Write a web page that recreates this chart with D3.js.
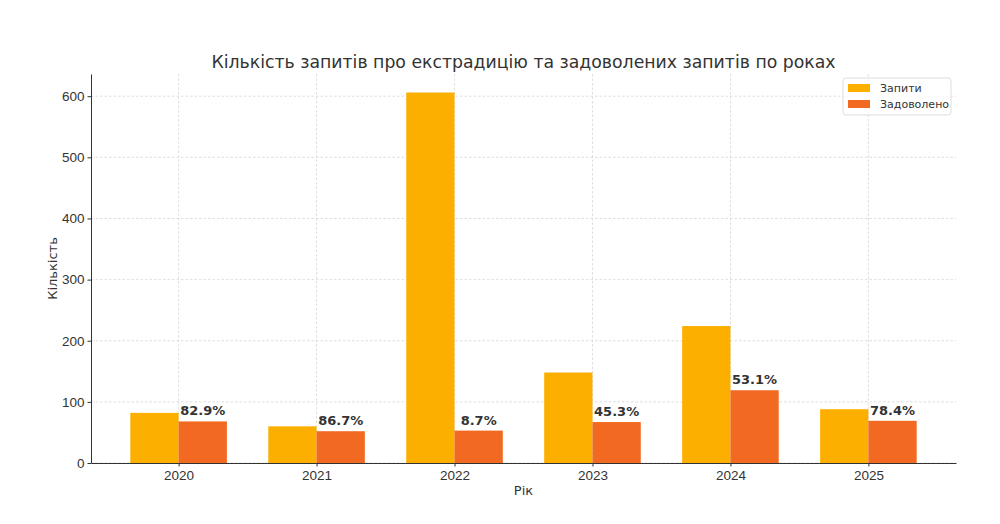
<!DOCTYPE html>
<html lang="uk">
<head>
    <meta charset="utf-8">
    <title>Кількість запитів про екстрадицію</title>
    <script src="https://cdn.jsdelivr.net/npm/d3@7"></script>
    <style type="text/css">
        body {
            margin: 0;
            background: #fff;
            font-family: "DejaVu Sans", sans-serif;
        }
        .grid line {
            stroke: #d6d6d6;
            stroke-dasharray: 2.5, 2;
            stroke-width: 0.8;
        }
        .axis path,
        .axis line {
            stroke: #333;
        }
        .axis text {
            fill: #333;
            font-size: 13.5px;
        }
    </style>
</head>
<body>
<svg id="chart"></svg>
<script type="text/javascript">

    var years = ["2020", "2021", "2022", "2023", "2024", "2025"];
    var requests = [82, 60, 606, 148, 224, 88];
    var granted = [68, 52, 53, 67, 119, 69];
    var yTicks = [0, 100, 200, 300, 400, 500, 600];

    var width = 1000,
        height = 524;
    var margin = {top: 74, right: 44, bottom: 61, left: 91};
    var barW = 0.35;

    var svg = d3.select("#chart")
        .attr("width", width)
        .attr("height", height);

    // x in category-index units, like matplotlib (with 5% margins)
    var lo = -barW, hi = years.length - 1 + barW;
    var pad = (hi - lo) * 0.05;
    var x = d3.scaleLinear()
        .domain([lo - pad, hi + pad])
        .range([margin.left, width - margin.right]);

    var y = d3.scaleLinear()
        .domain([0, d3.max(requests) * 1.05])
        .range([height - margin.bottom, margin.top]);

    // grid
    var grid = svg.append("g").attr("class", "grid");
    grid.selectAll(".gy")
        .data(yTicks)
        .enter().append("line")
        .attr("x1", margin.left)
        .attr("x2", width - margin.right)
        .attr("y1", function (d) { return y(d); })
        .attr("y2", function (d) { return y(d); });
    grid.selectAll(".gx")
        .data(years)
        .enter().append("line")
        .attr("x1", function (d, i) { return x(i); })
        .attr("x2", function (d, i) { return x(i); })
        .attr("y1", margin.top)
        .attr("y2", height - margin.bottom);

    // bars
    svg.append("g").selectAll("rect")
        .data(requests)
        .enter().append("rect")
        .attr("x", function (d, i) { return x(i - barW); })
        .attr("width", x(barW) - x(0))
        .attr("y", function (d) { return y(d); })
        .attr("height", function (d) { return y(0) - y(d); })
        .attr("fill", "#FDAF00");

    svg.append("g").selectAll("rect")
        .data(granted)
        .enter().append("rect")
        .attr("x", function (d, i) { return x(i); })
        .attr("width", x(barW) - x(0))
        .attr("y", function (d) { return y(d); })
        .attr("height", function (d) { return y(0) - y(d); })
        .attr("fill", "#F26A22");

    // percentage labels
    svg.append("g").selectAll("text")
        .data(granted)
        .enter().append("text")
        .attr("x", function (d, i) { return x(i + barW / 2); })
        .attr("y", function (d) { return y(d) - 6; })
        .attr("text-anchor", "middle")
        .style("font-size", "13px")
        .style("font-weight", "bold")
        .style("fill", "#333")
        .text(function (d, i) { return (d / requests[i] * 100).toFixed(1) + "%"; });

    // axes
    svg.append("g")
        .attr("class", "axis")
        .attr("transform", "translate(0," + (height - margin.bottom) + ")")
        .call(d3.axisBottom(x)
            .tickValues(d3.range(years.length))
            .tickFormat(function (i) { return years[i]; })
            .tickSize(3.5)
            .tickSizeOuter(0))
        .selectAll("text")
        .attr("dy", "0.8em");

    svg.append("g")
        .attr("class", "axis")
        .attr("transform", "translate(" + margin.left + ",0)")
        .call(d3.axisLeft(y)
            .tickValues(yTicks)
            .tickSize(3.5)
            .tickSizeOuter(0));

    // titles
    svg.append("text")
        .attr("x", (margin.left + width - margin.right) / 2)
        .attr("y", 68)
        .attr("text-anchor", "middle")
        .style("font-size", "17.3px")
        .style("fill", "#333")
        .text("Кількість запитів про екстрадицію та задоволених запитів по роках");

    svg.append("text")
        .attr("x", (margin.left + width - margin.right) / 2)
        .attr("y", 495)
        .attr("text-anchor", "middle")
        .style("font-size", "13px")
        .style("fill", "#333")
        .text("Рік");

    svg.append("text")
        .attr("transform", "translate(57," + (margin.top + height - margin.bottom) / 2 + ") rotate(-90)")
        .attr("text-anchor", "middle")
        .style("font-size", "13px")
        .style("fill", "#333")
        .text("Кількість");

    // legend
    var series = [{name: "Запити", color: "#FDAF00"}, {name: "Задоволено", color: "#F26A22"}];
    var leg = svg.append("g").attr("transform", "translate(843,78)");
    leg.append("rect")
        .attr("width", 108)
        .attr("height", 37)
        .attr("rx", 3)
        .attr("fill", "#fff")
        .attr("fill-opacity", 0.8)
        .attr("stroke", "#ddd");
    var items = leg.selectAll(".item")
        .data(series)
        .enter().append("g")
        .attr("transform", function (d, i) { return "translate(5," + (6 + i * 16) + ")"; });
    items.append("rect")
        .attr("width", 22)
        .attr("height", 8)
        .attr("fill", function (d) { return d.color; });
    items.append("text")
        .attr("x", 32)
        .attr("y", 8)
        .style("font-size", "11px")
        .style("fill", "#333")
        .text(function (d) { return d.name; });

</script>
</body>
</html>
